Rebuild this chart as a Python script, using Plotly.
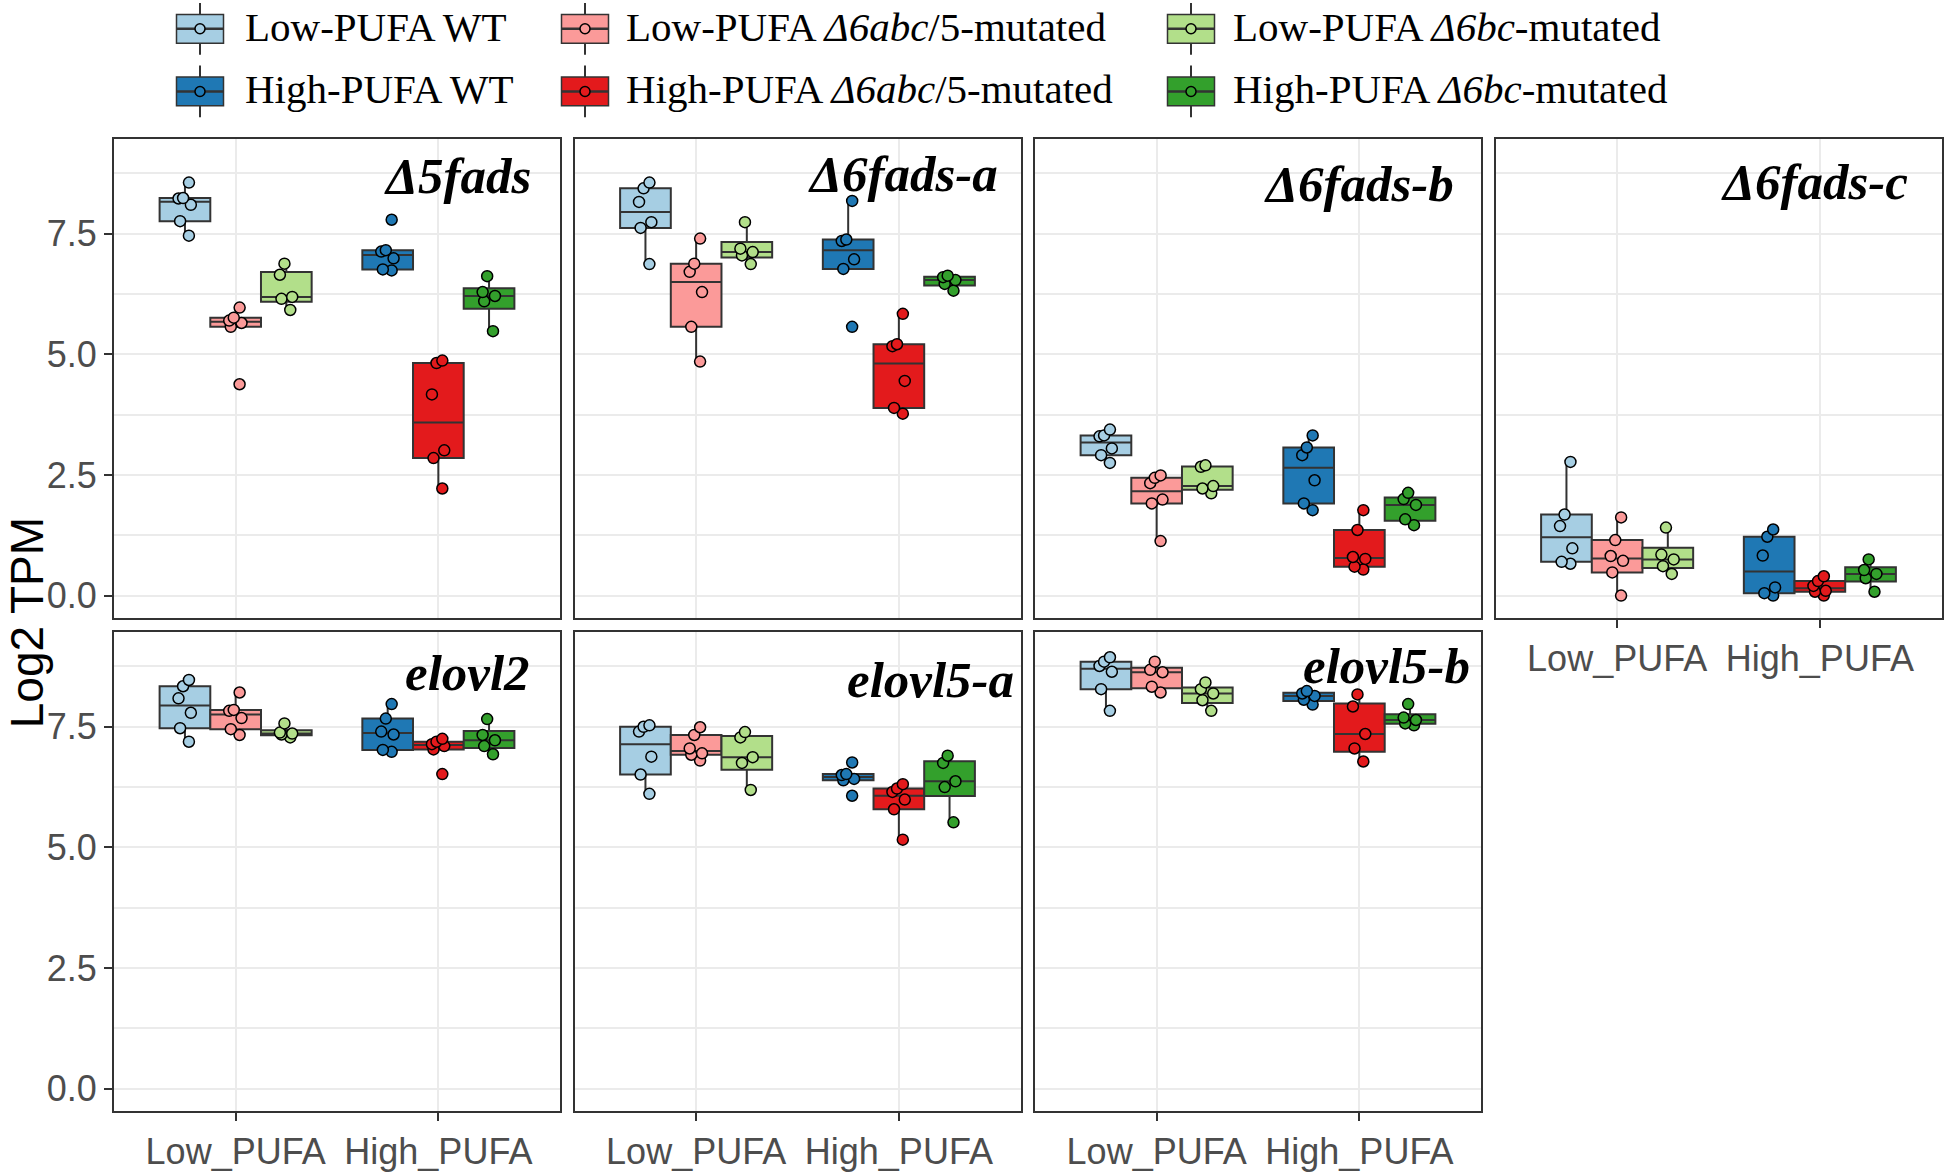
import plotly.graph_objects as go

W, H = 1946, 1172

# ---------------- data ----------------
genes = ["Δ5fads", "Δ6fads-a", "Δ6fads-b", "Δ6fads-c", "elovl2", "elovl5-a", "elovl5-b"]
groups = ["Low-PUFA WT", "Low-PUFA Δ6abc/5-mutated", "Low-PUFA Δ6bc-mutated",
          "High-PUFA WT", "High-PUFA Δ6abc/5-mutated", "High-PUFA Δ6bc-mutated"]
group_labels_html = ["Low-PUFA WT", "Low-PUFA <i>Δ6abc</i>/5-mutated", "Low-PUFA <i>Δ6bc</i>-mutated",
                     "High-PUFA WT", "High-PUFA <i>Δ6abc</i>/5-mutated", "High-PUFA <i>Δ6bc</i>-mutated"]
diets = ["Low_PUFA", "High_PUFA"]
group_diet = [0, 0, 0, 1, 1, 1]
group_slot = [0, 1, 2, 0, 1, 2]
colors = ["#A6CEE3", "#FB9A99", "#B2DF8A", "#1F78B4", "#E31A1C", "#33A02C"]
y_ticks = [0, 2.5, 5, 7.5]
y_tick_text = ["0.0", "2.5", "5.0", "7.5"]

# Log2 TPM per group (order as in `groups`)
d5fads = [
    [7.46, 7.76, 8.10, 8.23, 8.24, 8.56],
    [4.38, 5.57, 5.65, 5.70, 5.76, 5.97],
    [5.92, 6.15, 6.19, 6.65, 6.88],
    [6.74, 6.76, 6.99, 7.13, 7.16, 7.79],
    [2.22, 2.85, 3.01, 4.17, 4.82, 4.87],
    [5.48, 6.10, 6.21, 6.29, 6.62],
]
d6fads_a = [
    [6.87, 7.62, 7.74, 8.16, 8.44, 8.56],
    [4.85, 5.57, 6.29, 6.71, 6.88, 7.40],
    [6.87, 7.05, 7.12, 7.19, 7.74],
    [5.57, 6.77, 6.97, 7.35, 7.38, 8.18],
    [3.77, 3.89, 4.45, 5.17, 5.21, 5.84],
    [6.32, 6.46, 6.54, 6.60, 6.63],
]
d6fads_b = [
    [2.75, 2.91, 3.05, 3.30, 3.32, 3.44],
    [1.13, 1.91, 1.99, 2.33, 2.44, 2.49],
    [2.12, 2.22, 2.27, 2.67, 2.70],
    [1.77, 1.91, 2.39, 2.91, 3.07, 3.32],
    [0.54, 0.60, 0.76, 0.80, 1.36, 1.77],
    [1.46, 1.58, 1.88, 2.00, 2.13],
]
d6fads_c = [
    [0.66, 0.70, 0.98, 1.44, 1.68, 2.77],
    [0.00, 0.48, 0.72, 0.82, 1.15, 1.62],
    [0.45, 0.61, 0.75, 0.85, 1.41],
    [0.00, 0.05, 0.17, 0.83, 1.22, 1.37],
    [0.00, 0.08, 0.10, 0.20, 0.30, 0.40],
    [0.08, 0.36, 0.45, 0.53, 0.75],
]
elovl2 = [
    [7.19, 7.47, 7.79, 8.09, 8.34, 8.47],
    [7.33, 7.45, 7.68, 7.83, 7.85, 8.21],
    [7.28, 7.34, 7.36, 7.38, 7.57],
    [6.98, 7.02, 7.34, 7.40, 7.67, 7.97],
    [6.52, 7.03, 7.10, 7.14, 7.19, 7.25],
    [6.93, 7.10, 7.22, 7.33, 7.66],
]
elovl5_a = [
    [6.11, 6.51, 6.88, 7.40, 7.50, 7.53],
    [6.80, 6.92, 6.95, 7.05, 7.33, 7.49],
    [6.19, 6.75, 6.87, 7.28, 7.39],
    [6.07, 6.39, 6.42, 6.50, 6.52, 6.76],
    [5.16, 5.79, 5.99, 6.15, 6.22, 6.31],
    [5.52, 6.25, 6.37, 6.75, 6.90],
]
elovl5_b = [
    [7.83, 8.28, 8.64, 8.76, 8.85, 8.94],
    [8.21, 8.33, 8.63, 8.68, 8.85],
    [7.83, 8.05, 8.19, 8.28, 8.42],
    [7.96, 8.06, 8.14, 8.19, 8.24],
    [6.78, 7.05, 7.35, 7.92, 8.17],
    [7.53, 7.57, 7.64, 7.69, 7.97],
]
gene_values = [d5fads, d6fads_a, d6fads_b, d6fads_c, elovl2, elovl5_a, elovl5_b]

# ---------------- layout geometry (pixels) ----------------
panel_col = [0, 1, 2, 3, 0, 1, 2]
panel_row = [0, 0, 0, 0, 1, 1, 1]
col_left = [114, 574.5, 1035, 1495.5]
panel_w = 446
row_top = [140, 636]
panel_h = 481.5
dodge = [-0.25, 0.0, 0.25]
box_width = 0.25
label_right = [533, 1000, 1456, 1910, 532, 1016, 1472]
label_mid = [177, 175, 185, 183, 677, 684, 670]

def px(x):
    return x / W

def py(y):
    return 1 - y / H

GRID = "#EBEBEB"
FRAME = "#333333"
TICKFONT = dict(family="Liberation Sans, Arial", size=36, color="#4D4D4D")

fig = go.Figure()
layout_axes = {}

for i, gene in enumerate(genes):
    n = "" if i == 0 else str(i + 1)
    xa, ya = "x" + n, "y" + n
    for g in range(6):
        vals = gene_values[i][g]
        pos = 1 + group_diet[g] + dodge[group_slot[g]]
        fig.add_trace(go.Box(
            x=[pos] * len(vals), y=vals, xaxis=xa, yaxis=ya,
            name=groups[g], width=box_width,
            fillcolor=colors[g],
            line=dict(color=FRAME, width=2),
            marker=dict(color=colors[g], size=11, line=dict(color="black", width=1.5)),
            boxpoints="all", jitter=0.3, pointpos=0, whiskerwidth=0,
            showlegend=False, hoverinfo="y",
        ))
    c, r = panel_col[i], panel_row[i]
    xdom = [px(col_left[c]), px(col_left[c] + panel_w)]
    ydom = [py(row_top[r] + panel_h), py(row_top[r])]
    show_x = i in (3, 4, 5, 6)
    show_y = c == 0
    layout_axes["xaxis" + n] = dict(
        domain=xdom, anchor=ya, range=[0.4, 2.6],
        tickmode="array", tickvals=[1, 2], ticktext=diets,
        showticklabels=show_x, ticks="outside" if show_x else "",
        ticklen=8, tickwidth=2, tickcolor=FRAME, tickfont=TICKFONT,
        showgrid=True, gridcolor=GRID, gridwidth=2, zeroline=False,
        showline=True, mirror=True, linecolor=FRAME, linewidth=2,
        fixedrange=True,
    )
    layout_axes["yaxis" + n] = dict(
        domain=ydom, anchor=xa, range=[-0.46, 9.46],
        tickmode="array", tickvals=y_ticks, ticktext=y_tick_text,
        showticklabels=show_y, ticks="outside" if show_y else "",
        ticklen=8, tickwidth=2, tickcolor=FRAME, tickfont=TICKFONT,
        showgrid=True, gridcolor=GRID, gridwidth=2, zeroline=False,
        minor=dict(tick0=0, dtick=1.25, showgrid=True, gridcolor=GRID, gridwidth=1.5, ticks=""),
        showline=True, mirror=True, linecolor=FRAME, linewidth=2,
        fixedrange=True,
    )

annotations = []
# gene labels
for i, gene in enumerate(genes):
    annotations.append(dict(
        xref="paper", yref="paper", x=px(label_right[i]), y=py(label_mid[i]),
        xanchor="right", yanchor="middle", showarrow=False,
        text="<b><i>%s</i></b>" % gene,
        font=dict(family="Liberation Serif, Times New Roman", size=51, color="black"),
    ))
# y-axis title
annotations.append(dict(
    xref="paper", yref="paper", x=px(27), y=py(627), xanchor="center", yanchor="middle",
    showarrow=False, text="Log2 TPM", textangle=-90,
    font=dict(family="Liberation Sans, Arial", size=46, color="black"),
))

# custom legend (boxplot keys)
shapes = []
leg_key_x = [200, 585, 1191]
leg_text_x = [243, 624, 1231]
leg_key_y = [29, 92]
leg_text_y = [27, 90]
for g in range(6):
    col = group_slot[g]
    row = group_diet[g]
    cx, cy = leg_key_x[col], leg_key_y[row]
    hw, hh, wh = 23.5, 14.5, 26
    shapes.append(dict(type="line", xref="paper", yref="paper",
                       x0=px(cx), x1=px(cx), y0=py(cy - wh), y1=py(cy + wh),
                       line=dict(color=FRAME, width=2)))
    shapes.append(dict(type="rect", xref="paper", yref="paper",
                       x0=px(cx - hw), x1=px(cx + hw), y0=py(cy + hh), y1=py(cy - hh),
                       fillcolor=colors[g], line=dict(color=FRAME, width=1.5)))
    shapes.append(dict(type="line", xref="paper", yref="paper",
                       x0=px(cx - hw), x1=px(cx + hw), y0=py(cy), y1=py(cy),
                       line=dict(color=FRAME, width=2.5)))
    shapes.append(dict(type="circle", xref="paper", yref="paper",
                       x0=px(cx - 5), x1=px(cx + 5), y0=py(cy + 5), y1=py(cy - 5),
                       fillcolor=colors[g], line=dict(color="black", width=1.5)))
    annotations.append(dict(
        xref="paper", yref="paper", x=px(leg_text_x[col]), y=py(leg_text_y[row]),
        xanchor="left", yanchor="middle", showarrow=False,
        text=group_labels_html[g],
        font=dict(family="Liberation Serif, Times New Roman", size=41, color="black"),
    ))

fig.update_layout(
    width=W, height=H,
    margin=dict(l=0, r=0, t=0, b=0),
    paper_bgcolor="white", plot_bgcolor="white",
    boxmode="overlay", showlegend=False,
    font=dict(family="Liberation Sans, Arial"),
    annotations=annotations, shapes=shapes,
    **layout_axes,
)

fig.write_html("out.html", config={"displayModeBar": False},
               post_script="document.body.style.margin='0';")
